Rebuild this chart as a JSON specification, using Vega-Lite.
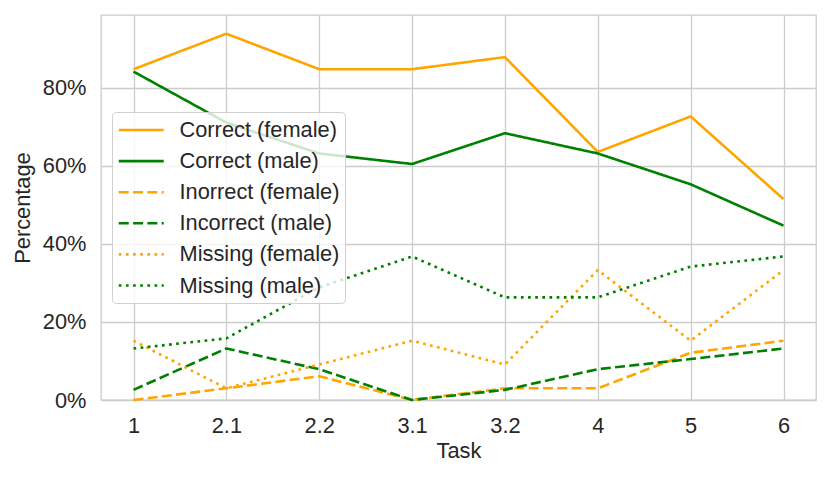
{
  "$schema": "https://vega.github.io/schema/vega-lite/v6.json",
  "width": 715,
  "height": 385,
  "autosize": {"type": "none"},
  "padding": {"left": 101, "top": 15, "right": 15, "bottom": 78},
  "config": {
    "font": "Liberation Sans",
    "view": {"stroke": "#cccccc", "strokeWidth": 1.3},
    "axis": {
      "domain": false,
      "ticks": false,
      "labelFontSize": 21.8,
      "labelColor": "#262626",
      "labelPadding": 15,
      "titleFontSize": 21.8,
      "titleColor": "#262626",
      "titleFontWeight": "normal",
      "gridColor": "#cccccc",
      "gridWidth": 1.3
    },
    "legend": {
      "orient": "none",
      "legendX": 11,
      "legendY": 97,
      "symbolType": "M-1,0H3",
      "symbolSize": 506,
      "symbolStrokeWidth": 2.6,
      "labelFontSize": 21.8,
      "labelColor": "#262626",
      "labelOffset": 36.5,
      "labelLimit": 220,
      "rowPadding": 6.1,
      "padding": 5,
      "fillColor": "rgba(255,255,255,0.8)",
      "strokeColor": "#d0d0d0",
      "cornerRadius": 4
    }
  },
  "data": {
    "values": [
      {"task": "1", "series": "Correct (female)", "pct": 84.8},
      {"task": "2.1", "series": "Correct (female)", "pct": 93.9},
      {"task": "2.2", "series": "Correct (female)", "pct": 84.8},
      {"task": "3.1", "series": "Correct (female)", "pct": 84.8},
      {"task": "3.2", "series": "Correct (female)", "pct": 87.9},
      {"task": "4", "series": "Correct (female)", "pct": 63.6},
      {"task": "5", "series": "Correct (female)", "pct": 72.7},
      {"task": "6", "series": "Correct (female)", "pct": 51.5},
      {"task": "1", "series": "Correct (male)", "pct": 84.2},
      {"task": "2.1", "series": "Correct (male)", "pct": 71.1},
      {"task": "2.2", "series": "Correct (male)", "pct": 63.2},
      {"task": "3.1", "series": "Correct (male)", "pct": 60.5},
      {"task": "3.2", "series": "Correct (male)", "pct": 68.4},
      {"task": "4", "series": "Correct (male)", "pct": 63.2},
      {"task": "5", "series": "Correct (male)", "pct": 55.3},
      {"task": "6", "series": "Correct (male)", "pct": 44.7},
      {"task": "1", "series": "Inorrect (female)", "pct": 0},
      {"task": "2.1", "series": "Inorrect (female)", "pct": 3.0},
      {"task": "2.2", "series": "Inorrect (female)", "pct": 6.1},
      {"task": "3.1", "series": "Inorrect (female)", "pct": 0},
      {"task": "3.2", "series": "Inorrect (female)", "pct": 3.0},
      {"task": "4", "series": "Inorrect (female)", "pct": 3.0},
      {"task": "5", "series": "Inorrect (female)", "pct": 12.1},
      {"task": "6", "series": "Inorrect (female)", "pct": 15.2},
      {"task": "1", "series": "Incorrect (male)", "pct": 2.6},
      {"task": "2.1", "series": "Incorrect (male)", "pct": 13.2},
      {"task": "2.2", "series": "Incorrect (male)", "pct": 7.9},
      {"task": "3.1", "series": "Incorrect (male)", "pct": 0},
      {"task": "3.2", "series": "Incorrect (male)", "pct": 2.6},
      {"task": "4", "series": "Incorrect (male)", "pct": 7.9},
      {"task": "5", "series": "Incorrect (male)", "pct": 10.5},
      {"task": "6", "series": "Incorrect (male)", "pct": 13.2},
      {"task": "1", "series": "Missing (female)", "pct": 15.2},
      {"task": "2.1", "series": "Missing (female)", "pct": 3.0},
      {"task": "2.2", "series": "Missing (female)", "pct": 9.1},
      {"task": "3.1", "series": "Missing (female)", "pct": 15.2},
      {"task": "3.2", "series": "Missing (female)", "pct": 9.1},
      {"task": "4", "series": "Missing (female)", "pct": 33.3},
      {"task": "5", "series": "Missing (female)", "pct": 15.2},
      {"task": "6", "series": "Missing (female)", "pct": 33.3},
      {"task": "1", "series": "Missing (male)", "pct": 13.2},
      {"task": "2.1", "series": "Missing (male)", "pct": 15.8},
      {"task": "2.2", "series": "Missing (male)", "pct": 28.9},
      {"task": "3.1", "series": "Missing (male)", "pct": 36.8},
      {"task": "3.2", "series": "Missing (male)", "pct": 26.3},
      {"task": "4", "series": "Missing (male)", "pct": 26.3},
      {"task": "5", "series": "Missing (male)", "pct": 34.2},
      {"task": "6", "series": "Missing (male)", "pct": 36.8}
    ]
  },
  "mark": {"type": "line", "strokeWidth": 2.6, "strokeJoin": "round"},
  "encoding": {
    "x": {
      "field": "task",
      "type": "ordinal",
      "sort": ["1", "2.1", "2.2", "3.1", "3.2", "4", "5", "6"],
      "scale": {"type": "point", "padding": 0.35},
      "axis": {"title": "Task", "labelAngle": 0, "titlePadding": 4, "grid": true}
    },
    "y": {
      "field": "pct",
      "type": "quantitative",
      "scale": {"domain": [0, 98.7], "nice": false},
      "axis": {"title": "Percentage", "values": [0, 20, 40, 60, 80], "labelExpr": "datum.value + '%'", "titlePadding": 8}
    },
    "color": {
      "field": "series",
      "type": "nominal",
      "scale": {
        "domain": ["Correct (female)", "Correct (male)", "Inorrect (female)", "Incorrect (male)", "Missing (female)", "Missing (male)"],
        "range": ["#ffa500", "#008000", "#ffa500", "#008000", "#ffa500", "#008000"]
      },
      "legend": {"title": null}
    },
    "strokeDash": {
      "field": "series",
      "type": "nominal",
      "scale": {
        "domain": ["Correct (female)", "Correct (male)", "Inorrect (female)", "Incorrect (male)", "Missing (female)", "Missing (male)"],
        "range": [[1, 0], [1, 0], [10, 4.3], [10, 4.3], [2.7, 4.45], [2.7, 4.45]]
      },
      "legend": {"title": null}
    }
  }
}
